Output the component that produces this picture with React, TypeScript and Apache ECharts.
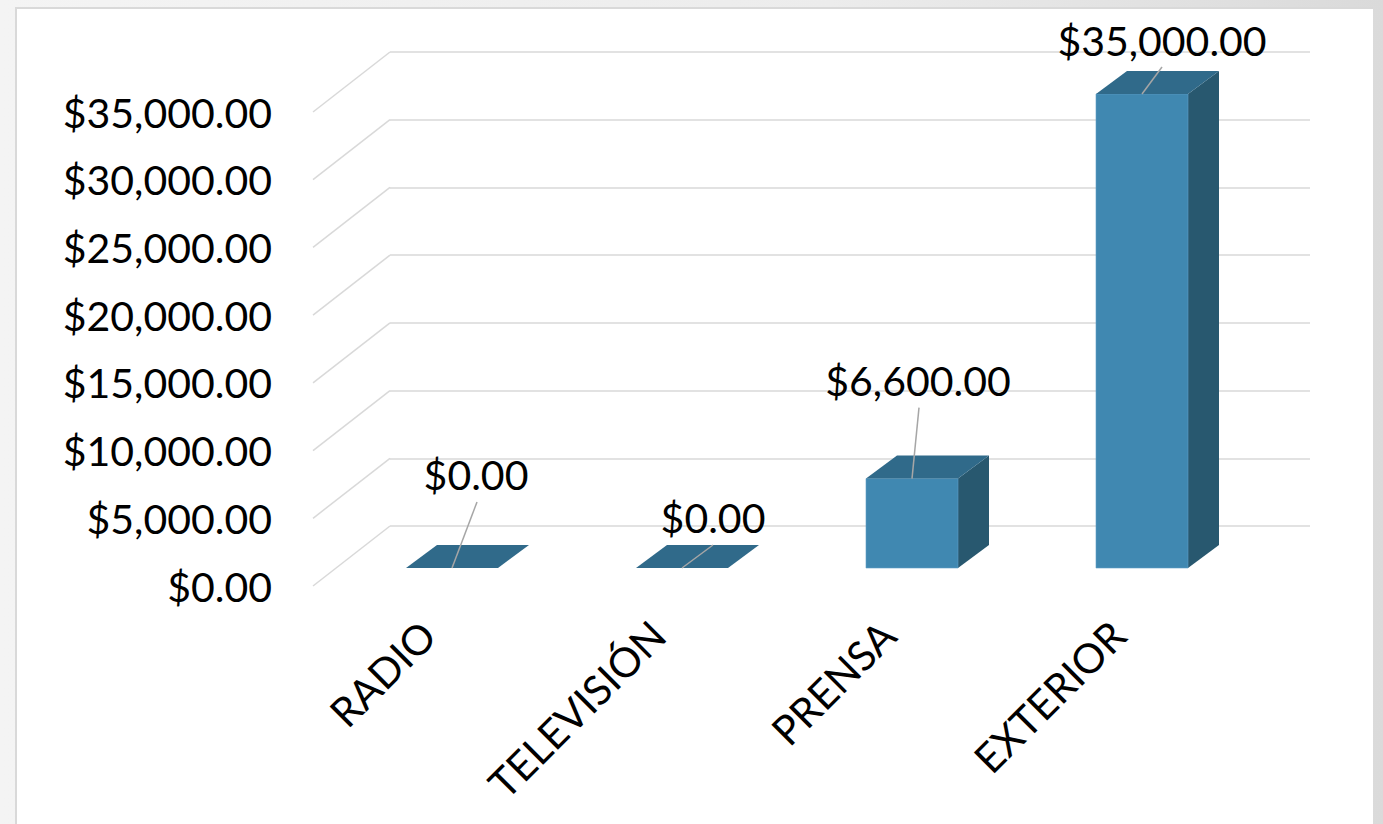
import React, { useEffect, useRef } from "react";
import * as echarts from "echarts";

const categories = ["RADIO", "TELEVISIÓN", "PRENSA", "EXTERIOR"];
const values = [0, 0, 6600, 35000];
const yTicks = [0, 5000, 10000, 15000, 20000, 25000, 30000, 35000];

// layout of the manually placed data labels (relative to bar front-top centre)
const labelTextOffsets = [[24, -94], [31, -51], [6, -98], [20, -54]];
const labelLineStarts = [[25, -66], [31, -23], [7, -71], [20, -27]];

const FONT = "Lato, 'Noto Sans', sans-serif";
const FS = 41;
const DEPTH_DX = 31;
const DEPTH_DY = -23;
const WALL_DX = -77;
const WALL_DY = 60;

const money = (v: number) =>
  "$" + v.toLocaleString("en-US", { minimumFractionDigits: 2, maximumFractionDigits: 2 });

export default function App() {
  const ref = useRef<HTMLDivElement>(null);
  useEffect(() => {
    if (!ref.current) return;
    const chart = echarts.init(ref.current, undefined, { renderer: "svg" });
    const option: any = {
      animation: false,
      backgroundColor: "transparent",
      grid: [
        { left: 390, top: 52, width: 920, height: 474 },
        { left: 313, top: 112, width: 920, height: 474 },
        { left: 337, top: 94, width: 920, height: 474 },
      ],
      xAxis: [
        { gridIndex: 0, type: "value", min: 0, max: 1, show: false },
        {
          gridIndex: 1,
          type: "category",
          data: categories,
          axisLine: { show: false },
          axisTick: { show: false },
          axisLabel: {
            interval: 0,
            rotate: 45,
            margin: 42,
            fontSize: FS,
            fontFamily: FONT,
            color: "#000",
          },
        },
        { gridIndex: 2, type: "category", data: categories, show: false },
      ],
      yAxis: [
        {
          gridIndex: 0,
          type: "value",
          min: 0,
          max: 35000,
          interval: 5000,
          axisLabel: { show: false },
          axisLine: { show: false },
          axisTick: { show: false },
          splitLine: { lineStyle: { color: "#d9d9d9", width: 1.5 } },
        },
        {
          gridIndex: 1,
          type: "value",
          min: 0,
          max: 35000,
          interval: 5000,
          axisLine: { show: false },
          axisTick: { show: false },
          splitLine: { show: false },
          axisLabel: {
            margin: 41,
            fontSize: FS,
            fontFamily: FONT,
            color: "#000",
            padding: [6, 0, 0, 0],
            formatter: (v: number) => money(v),
          },
        },
        { gridIndex: 2, type: "value", min: 0, max: 35000, show: false },
      ],
      series: [
        {
          type: "custom",
          xAxisIndex: 0,
          yAxisIndex: 0,
          data: yTicks.map((t) => [0, t]),
          silent: true,
          renderItem: (params: any, api: any) => {
            const p = api.coord([0, api.value(1)]);
            return {
              type: "line",
              shape: { x1: p[0], y1: p[1], x2: p[0] + WALL_DX, y2: p[1] + WALL_DY },
              style: { stroke: "#d9d9d9", lineWidth: 1.5 },
            };
          },
        },
        {
          type: "custom",
          xAxisIndex: 2,
          yAxisIndex: 2,
          data: values.map((v, i) => [i, v]),
          renderItem: (params: any, api: any) => {
            const i = api.value(0);
            const v = api.value(1);
            const base = api.coord([i, 0]);
            const top = api.coord([i, v]);
            const w = api.size([1, 0])[0] * 0.4;
            const x0 = base[0] - w / 2;
            const x1 = base[0] + w / 2;
            const yt = top[1];
            const yb = base[1];
            const children: any[] = [];
            if (v > 0) {
              children.push({
                type: "polygon",
                shape: {
                  points: [
                    [x1, yt],
                    [x1 + DEPTH_DX, yt + DEPTH_DY],
                    [x1 + DEPTH_DX, yb + DEPTH_DY],
                    [x1, yb],
                  ],
                },
                style: { fill: "#28586f" },
              });
              children.push({
                type: "rect",
                shape: { x: x0, y: yt, width: w, height: yb - yt },
                style: { fill: "#4088b1", stroke: "#5f9fc6", lineWidth: 0.6 },
              });
            }
            children.push({
              type: "polygon",
              shape: {
                points: [
                  [x0, yt],
                  [x1, yt],
                  [x1 + DEPTH_DX, yt + DEPTH_DY],
                  [x0 + DEPTH_DX, yt + DEPTH_DY],
                ],
              },
              style: { fill: "#306a8a" },
            });
            const lt = labelTextOffsets[params.dataIndex];
            const ls = labelLineStarts[params.dataIndex];
            children.push({
              type: "line",
              shape: { x1: base[0] + ls[0], y1: yt + ls[1], x2: base[0], y2: yt },
              style: { stroke: "#a6a6a6", lineWidth: 1.5 },
            });
            children.push({
              type: "text",
              x: base[0] + lt[0],
              y: yt + lt[1],
              style: {
                text: money(v),
                fontSize: FS,
                fontFamily: FONT,
                fill: "#000",
                align: "center",
                verticalAlign: "middle",
              },
            });
            return { type: "group", children };
          },
        },
      ],
    };
    chart.setOption(option);
    return () => chart.dispose();
  }, []);

  return (
    <div
      style={{
        position: "fixed",
        left: 0,
        top: 0,
        width: 1383,
        height: 824,
        background: "linear-gradient(90deg, #f4f4f4 0%, #ececec 60%, #dadada 100%)",
        overflow: "hidden",
      }}
    >
      <div
        style={{
          position: "absolute",
          left: 15,
          top: 7,
          width: 1356,
          height: 840,
          background: "#fff",
          borderLeft: "2px solid #d9d9d9",
          borderTop: "2px solid #d9d9d9",
        }}
      />
      <div ref={ref} style={{ position: "absolute", left: 0, top: 0, width: 1383, height: 824 }} />
    </div>
  );
}
